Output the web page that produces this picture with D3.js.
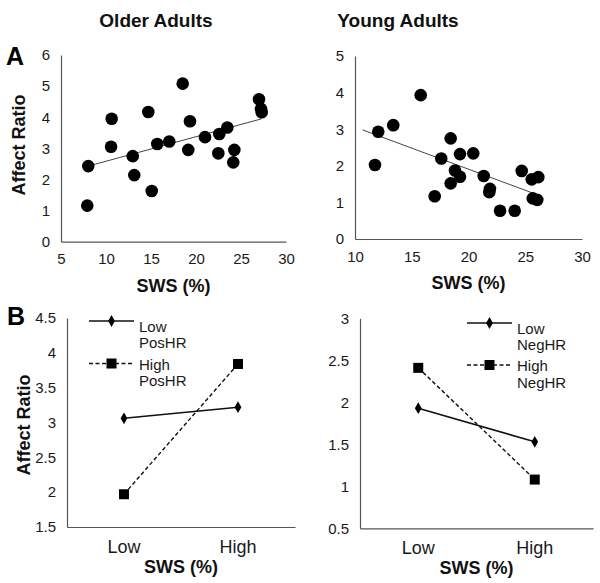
<!DOCTYPE html>
<html>
<head>
<meta charset="utf-8">
<script src="https://cdn.jsdelivr.net/npm/d3@7"></script>
<style>
  body { margin: 0; background: #fff; }
  svg { display: block; font-family: "Liberation Sans", Arial, Helvetica, sans-serif; }
</style>
</head>
<body>
<div id="chart"></div>
<script>
// ---- data ----

// A: older adults, SWS (%) vs affect ratio
var olderSws = [7.92, 8.03, 10.63, 10.56, 12.97, 13.14, 14.7, 15.08, 15.7, 17.03, 18.52,
                19.33, 19.14, 21.0, 22.59, 22.48, 23.48, 24.26, 24.14, 27.0, 27.22, 27.3];
var olderRatio = [1.16, 2.43, 3.95, 3.05, 2.75, 2.14, 4.17, 1.63, 3.14, 3.22, 5.08,
                  3.87, 2.95, 3.36, 3.46, 2.84, 3.67, 2.95, 2.55, 4.58, 4.27, 4.16];
var olderTrendX = [8.03, 27.3];
var olderTrendY = [2.43, 3.95];

// A: young adults
var youngSws = [11.76, 12.05, 13.37, 15.79, 17.02, 17.6, 18.43, 18.43, 18.81, 19.25, 19.25,
                20.42, 21.34, 21.89, 21.83, 22.78, 24.07, 24.69, 25.57, 26.15, 25.66, 26.06];
var youngRatio = [2.02, 2.93, 3.11, 3.93, 1.17, 2.2, 2.75, 1.52, 1.87, 2.32, 1.7,
                  2.34, 1.72, 1.37, 1.28, 0.77, 0.77, 1.86, 1.63, 1.69, 1.11, 1.07];
var youngTrendX = [10.68, 25.71];
var youngTrendY = [2.98, 1.25];

// B: interaction plots
var swsLevels = ["Low", "High"];
var lowPosHR = [3.06, 3.22];
var highPosHR = [1.97, 3.84];
var lowNegHR = [1.93, 1.53];
var highNegHR = [2.41, 1.08];

var olderXTicks = [5, 10, 15, 20, 25, 30];
var olderYTicks = [0, 1, 2, 3, 4, 5, 6];
var youngXTicks = [10, 15, 20, 25, 30];
var youngYTicks = [0, 1, 2, 3, 4, 5];
var posYTicks = [1.5, 2, 2.5, 3, 3.5, 4, 4.5];
var negYTicks = [0.5, 1, 1.5, 2, 2.5, 3];

var W = 600, H = 583;
var axisColor = "#555";
var fontFam = "'Liberation Sans', Arial, Helvetica, sans-serif";

var svg = d3.select("#chart").append("svg")
    .attr("width", W).attr("height", H);

// draws the left (y) axis with Excel-like look: line, no ticks, labels on the left
function leftAxis(g, y, ticks, x0) {
    var ax = g.append("g").attr("transform", "translate(" + x0 + ",0)")
        .call(d3.axisLeft(y).tickValues(ticks).tickSize(0).tickPadding(11)
            .tickFormat(function(d) { return String(d); }));
    ax.select(".domain").attr("stroke", axisColor).attr("stroke-width", 1.2);
    ax.selectAll("text").attr("font-size", 15).attr("fill", "#1a1a1a")
        .attr("font-family", fontFam);
    return ax;
}

function bottomAxis(g, x, y0, ticks, size, pad) {
    var a = d3.axisBottom(x).tickSize(0).tickPadding(pad);
    if (ticks) a.tickValues(ticks);
    var ax = g.append("g").attr("transform", "translate(0," + y0 + ")").call(a);
    ax.select(".domain").attr("stroke", axisColor).attr("stroke-width", 1.2);
    ax.selectAll("text").attr("font-size", size).attr("fill", "#1a1a1a")
        .attr("font-family", fontFam);
    return ax;
}

function boldText(x, y, txt, size, rotate) {
    var t = svg.append("text").attr("font-weight", "bold").attr("font-size", size)
        .attr("fill", "#111").attr("text-anchor", "middle").text(txt);
    if (rotate) {
        t.attr("transform", "translate(" + x + "," + y + ") rotate(-90)").attr("dy", "0.35em");
    } else {
        t.attr("x", x).attr("y", y);
    }
    return t;
}

// ---- scatter panel ----
function scatter(cfg) {
    var x = d3.scaleLinear().domain(cfg.xdom).range(cfg.xr);
    var y = d3.scaleLinear().domain(cfg.ydom).range(cfg.yr);
    var g = svg.append("g");

    bottomAxis(g, x, cfg.yr[0], cfg.xticks, 15, 12);
    leftAxis(g, y, cfg.yticks, cfg.xr[0]);

    // trend line
    var tr = cfg.tx.map(function(d, i) { return [x(d), y(cfg.ty[i])]; });
    g.append("path").attr("d", d3.line()(tr))
        .attr("fill", "none").attr("stroke", "#444").attr("stroke-width", 1);

    g.selectAll("circle.pt").data(cfg.xs).enter().append("circle")
        .attr("class", "pt")
        .attr("cx", function(d) { return x(d); })
        .attr("cy", function(d, i) { return y(cfg.ys[i]); })
        .attr("r", 6.3).attr("fill", "#000");

    boldText((cfg.xr[0] + cfg.xr[1]) / 2, cfg.yr[0] + 50, "SWS (%)", 18);
}

scatter({ xdom: [5, 30], xr: [61, 286], ydom: [0, 6], yr: [241.7, 55],
          xticks: olderXTicks, yticks: olderYTicks,
          xs: olderSws, ys: olderRatio, tx: olderTrendX, ty: olderTrendY });
scatter({ xdom: [10, 30], xr: [355, 582], ydom: [0, 5], yr: [239, 56],
          xticks: youngXTicks, yticks: youngYTicks,
          xs: youngSws, ys: youngRatio, tx: youngTrendX, ty: youngTrendY });

// ---- interaction panel ----
var diamond = d3.symbol().type(d3.symbolDiamond).size(40);

function interaction(cfg) {
    var x = d3.scaleBand().domain(swsLevels).range(cfg.xr);
    var y = d3.scaleLinear().domain(cfg.ydom).range(cfg.yr);
    var g = svg.append("g");

    bottomAxis(g, x, cfg.yr[0], null, 18, 13);
    leftAxis(g, y, cfg.yticks, cfg.xr[0]);

    var cx = function(d) { return x(d) + x.bandwidth() / 2; };
    var line = d3.line().x(function(d) { return cx(d[0]); }).y(function(d) { return y(d[1]); });

    var low = swsLevels.map(function(d, i) { return [d, cfg.low[i]]; });
    var high = swsLevels.map(function(d, i) { return [d, cfg.high[i]]; });

    g.append("path").attr("d", line(high)).attr("fill", "none")
        .attr("stroke", "#111").attr("stroke-width", 1.4).attr("stroke-dasharray", "4,2.5");
    g.append("path").attr("d", line(low)).attr("fill", "none")
        .attr("stroke", "#111").attr("stroke-width", 1.6);

    g.selectAll("path.dia").data(low).enter().append("path").attr("class", "dia")
        .attr("d", diamond)
        .attr("transform", function(d) { return "translate(" + cx(d[0]) + "," + y(d[1]) + ")"; })
        .attr("fill", "#000");
    g.selectAll("rect.sq").data(high).enter().append("rect").attr("class", "sq")
        .attr("x", function(d) { return cx(d[0]) - 5; })
        .attr("y", function(d) { return y(d[1]) - 5; })
        .attr("width", 10).attr("height", 10).attr("fill", "#000");

    // legend
    var L = cfg.legend;
    var lg = svg.append("g");
    lg.append("line").attr("x1", L.x).attr("x2", L.x + 45).attr("y1", L.y1).attr("y2", L.y1)
        .attr("stroke", "#111").attr("stroke-width", 1.6);
    lg.append("path").attr("d", diamond)
        .attr("transform", "translate(" + (L.x + 22.5) + "," + L.y1 + ")");
    lg.append("line").attr("x1", L.x).attr("x2", L.x + 45).attr("y1", L.y2).attr("y2", L.y2)
        .attr("stroke", "#111").attr("stroke-width", 1.4).attr("stroke-dasharray", "4,2.5");
    lg.append("rect").attr("x", L.x + 17.5).attr("y", L.y2 - 5).attr("width", 10).attr("height", 10);

    var lbl = [[L.y1 + 10.5, "Low"], [L.y1 + 26.5, cfg.name], [L.y2 + 6, "High"], [L.y2 + 22.5, cfg.name]];
    lg.selectAll("text").data(lbl).enter().append("text")
        .attr("x", L.x + 50).attr("y", function(d) { return d[0]; })
        .attr("font-size", 15).attr("fill", "#1a1a1a")
        .text(function(d) { return d[1]; });

    boldText((cfg.xr[0] + cfg.xr[1]) / 2, cfg.yr[0] + 46, "SWS (%)", 18);
}

interaction({ xr: [67, 295], ydom: [1.5, 4.5], yr: [527, 318], yticks: posYTicks,
              low: lowPosHR, high: highPosHR, name: "PosHR",
              legend: { x: 89, y1: 321, y2: 363.5 } });
interaction({ xr: [360, 593], ydom: [0.5, 3], yr: [528.3, 318.3], yticks: negYTicks,
              low: lowNegHR, high: highNegHR, name: "NegHR",
              legend: { x: 467, y1: 323, y2: 365 } });

// ---- titles and labels ----
boldText(156, 27, "Older Adults", 19);
boldText(398, 27, "Young Adults", 19);
boldText(18.5, 145, "Affect Ratio", 18, true);
boldText(23.5, 425, "Affect Ratio", 18, true);
svg.append("text").attr("x", 6).attr("y", 65).attr("font-size", 25)
    .attr("font-weight", "bold").attr("fill", "#000").text("A");
svg.append("text").attr("x", 7).attr("y", 325).attr("font-size", 25)
    .attr("font-weight", "bold").attr("fill", "#000").text("B");
</script>
</body>
</html>
